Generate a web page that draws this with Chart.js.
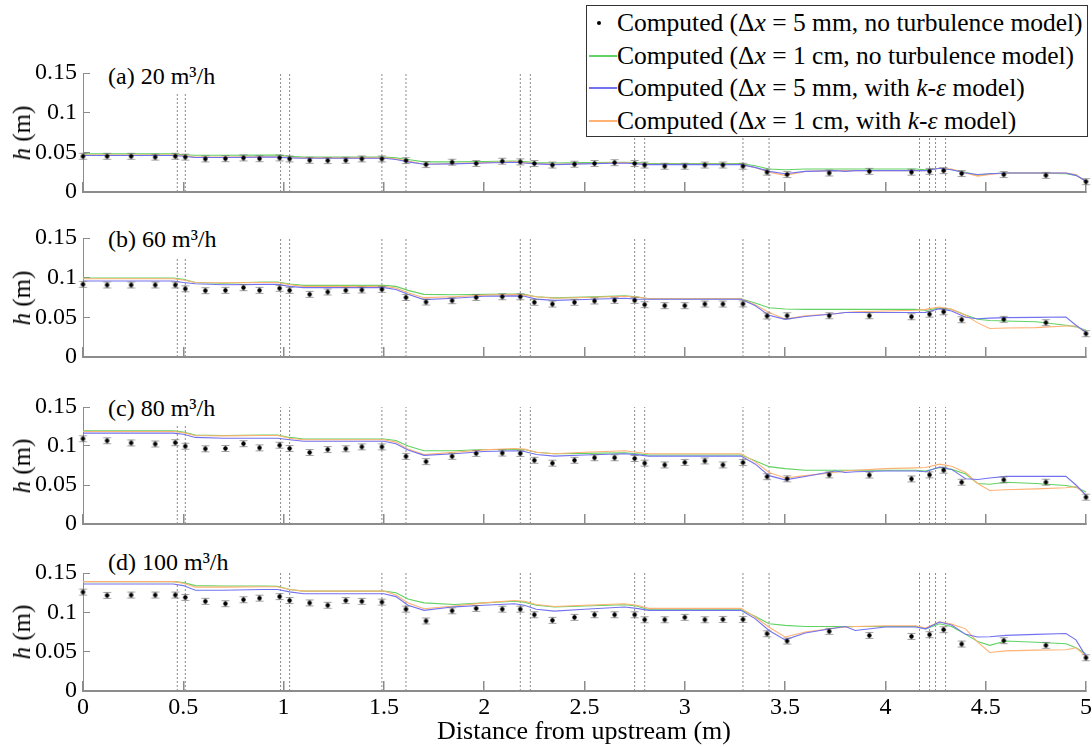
<!DOCTYPE html>
<html>
<head>
<meta charset="utf-8">
<title>Water depth profiles</title>
<script src="https://cdn.jsdelivr.net/npm/chart.js@4.4.0/dist/chart.umd.min.js"></script>
<style>
  body { margin: 0; background: #fff; width: 1092px; height: 747px; overflow: hidden; position: relative;
         font-family: "Liberation Serif", "Times New Roman", serif; color: #000; }
  .panel { position: absolute; left: 0; }
  .title { position: absolute; background: #fff; font-size: 24px; line-height: 36px; height: 36px;
           padding: 0 8px; white-space: nowrap; }
  .ylab { position: absolute; left: 22px; font-size: 25px; white-space: nowrap;
          transform: translate(-50%, -50%) rotate(-90deg); }
  .xlab { position: absolute; left: 584px; top: 731px; font-size: 26px; white-space: nowrap;
          transform: translate(-50%, -50%); }
  #legend { position: absolute; left: 586px; top: 5px; width: 502px; height: 132px; background: #fff;
            border: 1px solid #333; box-sizing: border-box; font-size: 25.5px; }
  #legend .row { position: absolute; left: 0; height: 33px; line-height: 33px; white-space: nowrap; }
  #legend .swatch { position: absolute; left: 2px; top: 16px; width: 28px; height: 2px; }
  #legend .dot { position: absolute; left: 10px; top: 15px; width: 4px; height: 4px; border-radius: 50%; background: #000; }
  #legend .txt { position: absolute; left: 30px; top: 0; }
</style>
</head>
<body>
<script>
// axis ticks
const xTickLabels = ['0', '0.5', '1', '1.5', '2', '2.5', '3', '3.5', '4', '4.5', '5'];
const yTickLabels = ['0', '0.05', '0.1', '0.15'];

// positions of the step structures (dashed markers)
const structureX = [0.47, 0.51, 0.985, 1.03, 1.49, 1.61, 2.18, 2.23, 2.75, 2.80, 3.29, 3.42, 4.17, 4.22, 4.25, 4.30];

// measured stations
const pointX = [0, 0.12, 0.24, 0.36, 0.46, 0.51, 0.61, 0.71, 0.8, 0.88, 0.98, 1.03, 1.13, 1.22, 1.31, 1.39,
  1.49, 1.61, 1.71, 1.84, 1.96, 2.09, 2.18, 2.25, 2.34, 2.45, 2.55, 2.65, 2.75, 2.8, 2.9, 3.0, 3.1, 3.19,
  3.29, 3.41, 3.51, 3.72, 3.92, 4.13, 4.22, 4.29, 4.38, 4.59, 4.8, 5.0];

const meas20 = [0.045, 0.045, 0.045, 0.044, 0.045, 0.044, 0.0417, 0.042, 0.043, 0.042, 0.043, 0.0417, 0.040, 0.0396,
  0.040, 0.0417, 0.0417, 0.0396, 0.0346, 0.0375, 0.036, 0.0388, 0.038, 0.036, 0.034, 0.035, 0.036, 0.037, 0.036,
  0.034, 0.0325, 0.0325, 0.034, 0.034, 0.0325, 0.025, 0.022, 0.024, 0.026, 0.025, 0.026, 0.027, 0.0233, 0.022,
  0.021, 0.013];
const meas60 = [0.0916, 0.0908, 0.0908, 0.0908, 0.0908, 0.086, 0.0836, 0.084, 0.0874, 0.084, 0.0866, 0.084, 0.079,
  0.082, 0.084, 0.0845, 0.0853, 0.075, 0.0693, 0.071, 0.075, 0.076, 0.076, 0.069, 0.0668, 0.069, 0.0706, 0.0714,
  0.0714, 0.066, 0.0647, 0.0647, 0.0668, 0.0668, 0.067, 0.0517, 0.052, 0.052, 0.052, 0.0508, 0.054, 0.057, 0.047,
  0.0475, 0.0433, 0.0294];
const meas80 = [0.1093, 0.1068, 0.104, 0.1026, 0.1043, 0.0997, 0.0964, 0.0968, 0.103, 0.0976, 0.101, 0.0968, 0.0917,
  0.0955, 0.0964, 0.0989, 0.0989, 0.0867, 0.080, 0.0867, 0.0905, 0.091, 0.0905, 0.0817, 0.078, 0.0817, 0.085, 0.085,
  0.084, 0.078, 0.0758, 0.079, 0.0809, 0.0758, 0.0788, 0.0607, 0.058, 0.063, 0.0628, 0.0578, 0.063, 0.069, 0.0536,
  0.0566, 0.0536, 0.0344];
const meas100 = [0.1257, 0.1215, 0.122, 0.122, 0.122, 0.119, 0.114, 0.111, 0.116, 0.118, 0.12, 0.115, 0.112, 0.109,
  0.115, 0.114, 0.113, 0.104, 0.089, 0.102, 0.105, 0.104, 0.104, 0.097, 0.0898, 0.0936, 0.097, 0.097, 0.097, 0.0906,
  0.0906, 0.0936, 0.0906, 0.091, 0.091, 0.0728, 0.0635, 0.0758, 0.0707, 0.0694, 0.0716, 0.078, 0.0597, 0.064, 0.058,
  0.0423];

// simulated profiles, sampled along the flume
const lineX = [0, 0.45, 0.5, 0.56, 0.7, 0.9, 0.97, 1.03, 1.1, 1.3, 1.5, 1.56, 1.62, 1.7, 1.85, 2.0, 2.15, 2.2, 2.26,
  2.35, 2.5, 2.7, 2.76, 2.82, 3.0, 3.28, 3.35, 3.42, 3.5, 3.6, 3.75, 3.8, 3.85, 4.0, 4.15, 4.2, 4.27, 4.33, 4.4,
  4.46, 4.52, 4.6, 4.75, 4.9, 4.95, 5.0];

const noTurb1cm20 = [0.048, 0.048, 0.047, 0.0463, 0.0463, 0.0465, 0.0465, 0.045, 0.044, 0.044, 0.044, 0.043, 0.041,
  0.038, 0.038, 0.0385, 0.039, 0.0385, 0.037, 0.0365, 0.037, 0.0375, 0.037, 0.036, 0.036, 0.036, 0.033, 0.029, 0.028,
  0.029, 0.029, 0.029, 0.029, 0.029, 0.029, 0.028, 0.030, 0.028, 0.025, 0.021, 0.023, 0.024, 0.024, 0.023, 0.021, 0.0137];
const ke5mm20 = [0.046, 0.046, 0.045, 0.0435, 0.0435, 0.044, 0.044, 0.043, 0.0425, 0.0425, 0.0425, 0.041, 0.038,
  0.035, 0.0355, 0.0365, 0.0375, 0.0365, 0.0355, 0.0345, 0.0355, 0.0365, 0.0355, 0.0345, 0.0345, 0.0345, 0.031,
  0.026, 0.023, 0.026, 0.027, 0.026, 0.027, 0.027, 0.027, 0.027, 0.030, 0.028, 0.024, 0.022, 0.023, 0.024, 0.024,
  0.024, 0.021, 0.0135];
const ke1cm20 = [0.0467, 0.0467, 0.046, 0.044, 0.044, 0.0445, 0.0445, 0.0435, 0.043, 0.043, 0.043, 0.042, 0.039,
  0.035, 0.036, 0.037, 0.038, 0.037, 0.036, 0.035, 0.036, 0.037, 0.036, 0.035, 0.035, 0.035, 0.031, 0.025, 0.021,
  0.026, 0.027, 0.027, 0.027, 0.027, 0.027, 0.027, 0.030, 0.029, 0.024, 0.020, 0.022, 0.024, 0.024, 0.024, 0.022, 0.0135];

const noTurb1cm60 = [0.0996, 0.0996, 0.098, 0.094, 0.093, 0.0945, 0.0945, 0.092, 0.0903, 0.0903, 0.0903, 0.089, 0.084,
  0.079, 0.0785, 0.079, 0.0795, 0.079, 0.076, 0.0745, 0.0755, 0.077, 0.076, 0.0735, 0.0735, 0.0735, 0.068, 0.062,
  0.0605, 0.060, 0.060, 0.060, 0.060, 0.060, 0.060, 0.059, 0.0618, 0.060, 0.053, 0.0475, 0.046, 0.0454, 0.0445, 0.040,
  0.038, 0.0336];
const ke5mm60 = [0.0958, 0.0958, 0.094, 0.0924, 0.091, 0.0915, 0.0915, 0.089, 0.0874, 0.0874, 0.0874, 0.085, 0.079,
  0.0723, 0.074, 0.0765, 0.077, 0.0765, 0.073, 0.0714, 0.0725, 0.074, 0.073, 0.0727, 0.0727, 0.0727, 0.065, 0.0525,
  0.0475, 0.051, 0.0546, 0.056, 0.056, 0.056, 0.056, 0.056, 0.061, 0.058, 0.050, 0.0483, 0.049, 0.0496, 0.050, 0.0504,
  0.040, 0.031];
const ke1cm60 = [0.0987, 0.0987, 0.097, 0.094, 0.0935, 0.094, 0.094, 0.091, 0.089, 0.089, 0.089, 0.087, 0.081, 0.0748,
  0.076, 0.078, 0.0786, 0.078, 0.076, 0.074, 0.075, 0.0765, 0.0755, 0.0735, 0.0735, 0.0735, 0.066, 0.056, 0.048,
  0.052, 0.0546, 0.056, 0.057, 0.058, 0.059, 0.060, 0.063, 0.060, 0.0525, 0.043, 0.036, 0.0366, 0.037, 0.039, 0.039, 0.031];

const noTurb1cm80 = [0.1194, 0.1194, 0.118, 0.114, 0.1135, 0.114, 0.114, 0.111, 0.109, 0.109, 0.109, 0.107, 0.100,
  0.094, 0.094, 0.0955, 0.0955, 0.0955, 0.092, 0.090, 0.0905, 0.0913, 0.090, 0.0884, 0.0884, 0.0884, 0.081, 0.0735,
  0.071, 0.069, 0.069, 0.069, 0.069, 0.069, 0.069, 0.068, 0.0725, 0.070, 0.064, 0.052, 0.051, 0.0536, 0.052, 0.0494,
  0.047, 0.041];
const ke5mm80 = [0.1165, 0.1165, 0.115, 0.111, 0.110, 0.110, 0.110, 0.108, 0.106, 0.106, 0.106, 0.103, 0.095, 0.088,
  0.090, 0.093, 0.094, 0.093, 0.089, 0.087, 0.0885, 0.090, 0.089, 0.087, 0.087, 0.087, 0.077, 0.062, 0.0566, 0.061,
  0.068, 0.066, 0.067, 0.068, 0.068, 0.067, 0.073, 0.070, 0.058, 0.057, 0.059, 0.061, 0.061, 0.061, 0.050, 0.037];
const ke1cm80 = [0.1185, 0.1185, 0.117, 0.1135, 0.113, 0.1135, 0.1135, 0.110, 0.108, 0.108, 0.108, 0.105, 0.096,
  0.089, 0.092, 0.095, 0.0968, 0.096, 0.092, 0.090, 0.092, 0.094, 0.092, 0.090, 0.090, 0.090, 0.080, 0.066, 0.059,
  0.062, 0.066, 0.068, 0.069, 0.071, 0.072, 0.0725, 0.0767, 0.074, 0.066, 0.052, 0.043, 0.044, 0.045, 0.0465, 0.048, 0.037];

const noTurb1cm100 = [0.139, 0.139, 0.138, 0.134, 0.1334, 0.1334, 0.133, 0.129, 0.127, 0.127, 0.127, 0.125, 0.117,
  0.112, 0.110, 0.112, 0.114, 0.113, 0.109, 0.1067, 0.108, 0.1097, 0.108, 0.1033, 0.1033, 0.1033, 0.095, 0.0855,
  0.0834, 0.082, 0.082, 0.082, 0.082, 0.082, 0.082, 0.079, 0.0855, 0.082, 0.072, 0.063, 0.058, 0.0635, 0.062, 0.060,
  0.055, 0.047];
const ke5mm100 = [0.136, 0.136, 0.134, 0.128, 0.128, 0.129, 0.129, 0.126, 0.1236, 0.1236, 0.1236, 0.12, 0.109, 0.1025,
  0.107, 0.109, 0.111, 0.109, 0.104, 0.1016, 0.104, 0.1067, 0.105, 0.1025, 0.1025, 0.1025, 0.092, 0.077, 0.065,
  0.0737, 0.080, 0.082, 0.077, 0.0813, 0.0813, 0.079, 0.0876, 0.084, 0.072, 0.0686, 0.069, 0.0707, 0.072, 0.073,
  0.065, 0.044];
const ke1cm100 = [0.139, 0.139, 0.137, 0.132, 0.132, 0.1325, 0.1325, 0.129, 0.127, 0.127, 0.127, 0.122, 0.112, 0.1045,
  0.108, 0.112, 0.115, 0.114, 0.110, 0.1075, 0.109, 0.111, 0.109, 0.105, 0.105, 0.105, 0.094, 0.081, 0.0686, 0.075,
  0.080, 0.081, 0.082, 0.083, 0.083, 0.080, 0.088, 0.085, 0.079, 0.062, 0.049, 0.051, 0.052, 0.0525, 0.055, 0.044];

const panelTitles = ['(a) 20 m³/h', '(b) 60 m³/h', '(c) 80 m³/h', '(d) 100 m³/h'];

const panels = [
  { title: panelTitles[0], meas: meas20, green: noTurb1cm20, blue: ke5mm20, orange: ke1cm20 },
  { title: panelTitles[1], meas: meas60, green: noTurb1cm60, blue: ke5mm60, orange: ke1cm60 },
  { title: panelTitles[2], meas: meas80, green: noTurb1cm80, blue: ke5mm80, orange: ke1cm80 },
  { title: panelTitles[3], meas: meas100, green: noTurb1cm100, blue: ke5mm100, orange: ke1cm100 }
];

// plot area geometry (page pixels)
const plotLeft = 83, plotRight = 1087;
const plotTops = [73, 238, 407, 573];
const plotBottoms = [192, 357, 524, 691];
const titleTops = [58, 221, 390, 544];
const COLORS = { green: '#62d262', blue: '#7272f0', orange: '#ffb274', axis: '#8c8c8c', struct: '#8a8a8a' };
const FONT = '"Liberation Serif", "Times New Roman", serif';

Chart.defaults.font.family = FONT;
Chart.defaults.color = '#000';

function pairs(xs, ys) {
  return xs.map((x, i) => ({ x: x, y: ys[i] }));
}

// dashed verticals, one segment per structure edge, split by gaps
function structureSegments() {
  const out = [];
  structureX.forEach(x => {
    out.push({ x: x, y: 0 }, { x: x, y: 0.15 }, { x: x, y: null });
  });
  return out;
}

// black dot with small grey error caps
function errorMarker() {
  const c = document.createElement('canvas');
  c.width = 11; c.height = 9;
  const g = c.getContext('2d');
  g.strokeStyle = 'rgba(120,120,120,0.7)';
  g.lineWidth = 1;
  g.beginPath();
  g.moveTo(1.5, 1.5); g.lineTo(9.5, 1.5);
  g.moveTo(1.5, 7.5); g.lineTo(9.5, 7.5);
  g.moveTo(5.5, 1.5); g.lineTo(5.5, 7.5);
  g.stroke();
  g.fillStyle = '#000';
  g.beginPath(); g.arc(5.5, 4.5, 2.2, 0, Math.PI * 2); g.fill();
  return c;
}
const marker = errorMarker();

function makePanel(p, idx) {
  const last = idx === panels.length - 1;
  const padTop = 14;
  const axisH = last ? 34 : 6;
  const top = plotTops[idx] - padTop;
  const h = plotBottoms[idx] - plotTops[idx] + padTop + axisH;

  const wrap = document.createElement('div');
  wrap.className = 'panel';
  wrap.style.top = top + 'px';
  const cv = document.createElement('canvas');
  cv.width = 1092; cv.height = h;
  wrap.appendChild(cv);
  document.body.appendChild(wrap);

  new Chart(cv, {
    type: 'scatter',
    data: {
      datasets: [
        { data: pairs(pointX, p.meas), pointStyle: marker, pointRadius: 5, order: 0 },
        { data: pairs(lineX, p.blue), showLine: true, borderColor: COLORS.blue, borderWidth: 1.1, pointRadius: 0, order: 1 },
        { data: pairs(lineX, p.orange), showLine: true, borderColor: COLORS.orange, borderWidth: 1.1, pointRadius: 0, order: 2 },
        { data: pairs(lineX, p.green), showLine: true, borderColor: COLORS.green, borderWidth: 1.1, pointRadius: 0, order: 3 },
        { data: structureSegments(), showLine: true, spanGaps: false, borderColor: COLORS.struct, borderWidth: 1,
          borderDash: [2, 2], pointRadius: 0, order: 4 }
      ]
    },
    options: {
      responsive: false,
      animation: false,
      clip: false,
      layout: { padding: { top: padTop, right: 1092 - plotRight, left: 0, bottom: 0 } },
      plugins: { legend: { display: false }, tooltip: { enabled: false } },
      scales: {
        x: {
          type: 'linear', min: 0, max: 5,
          afterFit: s => { s.height = axisH; s.paddingLeft = 0; s.paddingRight = 0; },
          afterBuildTicks: s => { s.ticks = xTickLabels.map(t => ({ value: Number(t) })); },
          border: { color: COLORS.axis, width: 2 },
          grid: { drawOnChartArea: false, drawTicks: true, tickLength: -10, color: COLORS.axis, lineWidth: 1.5 },
          ticks: {
            display: last, padding: 12, maxRotation: 0, autoSkip: false,
            font: { family: FONT, size: 24 }, color: '#000',
            callback: (v, i) => xTickLabels[i]
          }
        },
        y: {
          min: 0, max: 0.15,
          afterFit: s => { s.width = plotLeft; s.paddingTop = 0; s.paddingBottom = 0; },
          afterBuildTicks: s => { s.ticks = yTickLabels.map(t => ({ value: Number(t) })); },
          border: { color: COLORS.axis, width: 1 },
          grid: { drawOnChartArea: false, drawTicks: true, tickLength: -7, color: COLORS.axis },
          ticks: {
            padding: 13,
            font: { family: FONT, size: 24 }, color: '#000',
            callback: (v, i) => yTickLabels[i]
          }
        }
      }
    }
  });

  const t = document.createElement('div');
  t.className = 'title';
  t.style.left = '100px';
  t.style.top = titleTops[idx] + 'px';
  t.textContent = p.title;
  document.body.appendChild(t);

  const yl = document.createElement('div');
  yl.className = 'ylab';
  yl.style.top = ((plotTops[idx] + plotBottoms[idx]) / 2) + 'px';
  yl.innerHTML = '<i>h</i> (m)';
  document.body.appendChild(yl);
}

panels.forEach(makePanel);

const xl = document.createElement('div');
xl.className = 'xlab';
xl.textContent = 'Distance from upstream (m)';
document.body.appendChild(xl);

// legend box
const legendItems = [
  { kind: 'dot', html: 'Computed (Δ<i>x</i> = 5 mm, no turbulence model)' },
  { kind: 'line', color: COLORS.green, html: 'Computed (Δ<i>x</i> = 1 cm, no turbulence model)' },
  { kind: 'line', color: COLORS.blue, html: 'Computed (Δ<i>x</i> = 5 mm, with <i>k</i>-<i>ε</i> model)' },
  { kind: 'line', color: COLORS.orange, html: 'Computed (Δ<i>x</i> = 1 cm, with <i>k</i>-<i>ε</i> model)' }
];
const lg = document.createElement('div');
lg.id = 'legend';
legendItems.forEach((it, i) => {
  const row = document.createElement('div');
  row.className = 'row';
  row.style.top = (0 + i * 32.7) + 'px';
  const mark = document.createElement('span');
  if (it.kind === 'dot') {
    mark.className = 'dot';
  } else {
    mark.className = 'swatch';
    mark.style.background = it.color;
  }
  const txt = document.createElement('span');
  txt.className = 'txt';
  txt.innerHTML = it.html;
  row.appendChild(mark);
  row.appendChild(txt);
  lg.appendChild(row);
});
document.body.appendChild(lg);
</script>
</body>
</html>
